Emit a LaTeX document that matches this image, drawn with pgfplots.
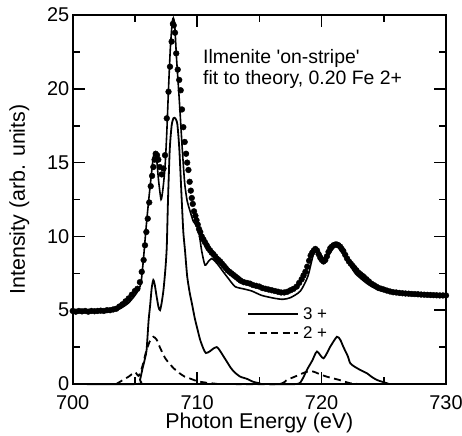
\documentclass[border=0pt]{standalone}
\usepackage{fontspec}
\setmainfont{Liberation Sans}
\usepackage{pgfplots}
\pgfplotsset{compat=1.18}
\usepackage{pgfplotstable}

\pgfplotstableread{
x y
700.00 4.95
700.25 4.90
700.50 4.95
700.75 4.92
701.00 4.95
701.25 4.90
701.50 4.95
701.75 4.93
702.00 4.95
702.25 4.97
702.50 4.95
702.75 5.00
703.00 5.00
703.25 5.05
703.50 5.10
703.75 5.25
704.00 5.40
704.25 5.60
704.50 5.80
704.75 6.05
705.00 6.30
705.20 6.45
705.40 6.90
705.55 7.60
705.70 8.40
705.81 9.40
705.92 10.3
706.03 11.2
706.15 12.3
706.27 13.4
706.38 14.1
706.48 14.7
706.58 15.2
706.67 15.6
706.78 15.5
706.88 15.2
707.00 14.7
707.15 14.2
707.30 14.6
707.42 15.5
707.56 18.0
707.70 19.8
707.82 21.5
707.95 23.2
708.05 24.4
708.12 24.3
708.22 23.8
708.32 22.4
708.44 21.3
708.56 20.6
708.68 19.9
708.78 18.6
708.89 17.4
709.00 16.4
709.11 15.6
709.20 15.0
709.30 14.5
709.40 13.7
709.49 13.1
709.57 12.6
709.65 12.2
709.75 11.7
709.86 11.4
709.95 11.1
710.05 10.8
710.15 10.5
710.25 10.3
710.37 10.0
710.50 9.80
710.63 9.60
710.77 9.40
710.90 9.20
711.04 9.05
711.17 8.90
711.30 8.80
711.45 8.65
711.58 8.50
711.72 8.40
711.85 8.30
712.00 8.15
712.15 8.00
712.30 7.85
712.45 7.70
712.60 7.60
712.75 7.50
712.90 7.40
713.05 7.30
713.20 7.20
713.35 7.10
713.50 7.00
713.75 6.90
714.00 6.85
714.25 6.80
714.50 6.70
714.75 6.65
715.00 6.60
715.25 6.50
715.50 6.45
715.75 6.40
716.00 6.35
716.25 6.30
716.50 6.25
716.75 6.20
717.00 6.20
717.25 6.25
717.50 6.35
717.75 6.45
718.00 6.60
718.20 6.85
718.40 7.10
718.55 7.35
718.70 7.60
718.85 7.95
719.00 8.35
719.12 8.70
719.25 8.90
719.38 9.05
719.50 9.15
719.63 9.05
719.76 8.80
719.90 8.55
720.03 8.40
720.16 8.30
720.30 8.40
720.43 8.65
720.56 8.95
720.70 9.20
720.82 9.30
720.95 9.40
721.10 9.45
721.23 9.45
721.36 9.40
721.50 9.30
721.62 9.15
721.75 9.00
721.90 8.75
722.05 8.50
722.20 8.30
722.35 8.15
722.50 8.00
722.65 7.85
722.80 7.70
722.95 7.55
723.10 7.45
723.25 7.35
723.40 7.25
723.60 7.10
723.80 6.95
724.00 6.80
724.20 6.70
724.40 6.60
724.60 6.50
724.80 6.45
725.00 6.40
725.25 6.33
725.50 6.27
725.75 6.22
726.00 6.20
726.25 6.17
726.50 6.15
726.75 6.13
727.00 6.12
727.25 6.10
727.50 6.09
727.75 6.08
728.00 6.06
728.25 6.05
728.50 6.04
728.75 6.03
729.00 6.02
729.25 6.01
729.50 6.00
729.75 6.00
730.00 6.00
}\expdata

\pgfplotstableread{
x y
700.0 4.95
703.0 4.95
703.5 5.00
704.0 5.20
704.5 5.50
705.0 6.00
705.3 6.40
705.5 6.90
705.7 8.60
705.9 10.6
706.1 12.4
706.3 14.0
706.48 15.4
706.62 15.7
706.75 15.2
706.9 13.8
707.1 12.5
707.25 13.2
707.42 14.7
707.56 17.0
707.7 20.0
707.85 22.8
708.0 24.5
708.09 24.8
708.2 24.3
708.35 22.0
708.57 19.2
708.8 16.0
709.0 13.6
709.2 12.4
709.4 11.8
709.7 11.0
709.9 10.8
710.1 10.5
710.37 9.00
710.63 8.06
710.9 8.30
711.17 8.50
711.45 8.30
711.7 8.06
712.1 7.60
712.5 7.16
713.05 6.60
713.7 6.45
714.39 6.30
715.2 6.00
716.26 5.80
716.9 5.74
717.5 5.85
718.3 6.30
718.9 7.30
719.36 8.85
719.66 9.10
720.0 8.70
720.26 8.40
720.7 8.90
721.16 9.40
721.5 9.10
722.06 8.40
722.7 7.50
723.66 6.80
724.5 6.40
725.5 6.20
727.0 6.10
728.5 6.02
730.0 6.00
}\fitdata

\pgfplotstableread{
x y
700.0 0
705.2 0
705.41 0.29
705.6 1.0
705.8 1.7
705.94 2.32
706.1 4.3
706.22 5.3
706.35 6.5
706.48 7.05
706.6 6.7
706.75 5.9
706.9 5.2
707.02 5.0
707.15 5.5
707.3 6.4
707.45 7.8
707.56 9.3
707.66 12.5
707.8 15.9
707.95 17.5
708.09 18.0
708.25 18.0
708.41 17.6
708.57 15.9
708.76 12.5
708.89 10.3
709.03 9.0
709.2 7.3
709.4 6.2
709.57 5.5
709.8 4.5
710.0 3.8
710.24 3.0
710.5 2.4
710.7 2.1
711.0 2.2
711.3 2.4
711.58 2.5
711.8 2.3
712.1 1.9
712.4 1.5
712.7 1.1
713.0 0.8
713.46 0.5
714.0 0.35
714.5 0.15
715.0 0.05
715.3 0
718.0 0
718.42 0.27
718.82 0.95
719.26 1.6
719.63 2.2
720.16 1.74
720.7 2.53
721.23 3.2
721.5 3.0
721.76 2.5
722.1 1.9
722.31 1.4
722.7 1.15
723.11 0.95
723.66 0.72
724.0 0.5
724.46 0.27
725.26 0.05
725.5 0
730.0 0
}\threeplus

\pgfplotstableread{
x y
703.5 0
704.0 0.25
704.5 0.5
705.0 0.8
705.3 0.55
705.6 1.2
705.9 2.2
706.2 2.9
706.48 3.2
706.75 3.0
707.0 2.5
707.4 1.8
707.8 1.35
708.2 1.0
708.6 0.72
709.0 0.5
709.4 0.38
709.8 0.25
710.2 0.16
710.8 0.08
711.5 0.02
712.0 0
716.5 0
717.2 0.27
718.0 0.55
718.8 0.83
719.3 0.85
719.7 0.72
720.4 0.5
721.4 0.28
722.3 0.05
723.0 0
}\twoplus

\begin{document}
\begin{tikzpicture}
\begin{axis}[
  at={(0,0)}, anchor=south west,
  scale only axis,
  width=373.3bp, height=369bp,
  xmin=700, xmax=730, ymin=0, ymax=25,
  xtick={700,710,720,730},
  ytick={0,5,10,15,20,25},
  minor x tick num=1,
  minor y tick num=1,
  tick align=inside,
  major tick length=12bp,
  minor tick length=7bp,
  every tick/.style={black, line width=1.6bp},
  axis line style={line width=2bp},
  /pgf/number format/assume math mode=true,
  tick label style={font=\fontsize{20}{24}\selectfont},
  xticklabel style={inner ysep=0pt, yshift=-11bp},
  yticklabel style={inner ysep=0pt},
  xlabel={Photon Energy (eV)},
  ylabel={Intensity (arb. units)},
  label style={font=\fontsize{21.5}{26}\selectfont},
  xlabel style={at={(axis description cs:0.5,-0.121)}, anchor=base},
  ylabel style={at={(axis description cs:-0.128,0.5)}, anchor=base},
  clip=false,
]
\addplot[only marks, mark=*, mark size=2.9bp, black] table[x=x,y=y] {\expdata};
\addplot[black, line width=1.6bp, smooth, tension=0.4] table[x=x,y=y] {\fitdata};
\addplot[black, line width=1.8bp, smooth, tension=0.4] table[x=x,y=y] {\threeplus};
\addplot[black, line width=1.8bp, dash pattern=on 7bp off 4.5bp, smooth, tension=0.4] table[x=x,y=y] {\twoplus};
% legend
\addplot[black, line width=1.8bp] coordinates {(714.1,4.74) (718.1,4.74)};
\addplot[black, line width=1.8bp, dash pattern=on 7bp off 4.5bp] coordinates {(714.1,3.48) (718.1,3.48)};
\node[anchor=west, font=\fontsize{17}{20}\selectfont, inner sep=0pt] at (axis cs:718.5,4.74) {3 +};
\node[anchor=west, font=\fontsize{17}{20}\selectfont, inner sep=0pt] at (axis cs:718.5,3.48) {2 +};
% annotation
\node[anchor=base west, font=\fontsize{19.5}{23}\selectfont, inner sep=0pt] at (axis cs:710.47,21.72) {Ilmenite \textquotesingle on-stripe\textquotesingle};
\node[anchor=base west, font=\fontsize{19.5}{23}\selectfont, inner sep=0pt] at (axis cs:710.47,20.26) {fit to theory, 0.20 Fe 2+};
\end{axis}
\pgfresetboundingbox
\path[use as bounding box] (-72.7bp,-52bp) rectangle (389.3bp,384bp);
\end{tikzpicture}
\end{document}
